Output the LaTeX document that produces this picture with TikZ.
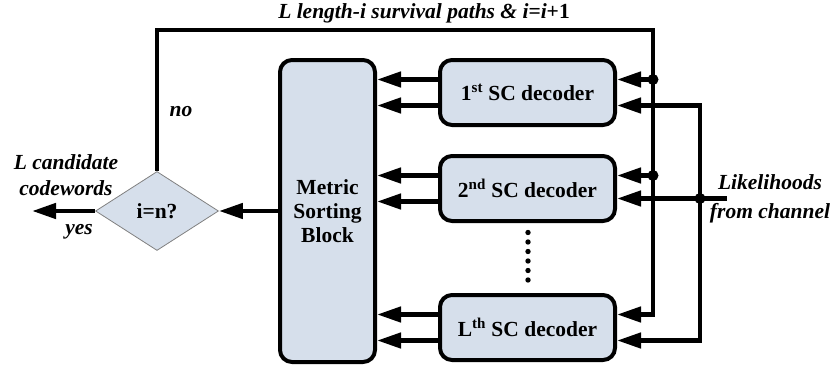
\documentclass[tikz,border=0pt]{standalone}
\usepackage{fontspec}
\setmainfont{Liberation Serif}
\usepackage{tikz}
\usetikzlibrary{arrows.meta,shapes.geometric}
\definecolor{blockblue}{RGB}{214,223,235}

\begin{document}
\begin{tikzpicture}[x=10bp,y=-10bp,
    font=\fontsize{21.5bp}{24bp}\selectfont\bfseries,
    block/.style={draw=black,line width=4bp,fill=blockblue,rounded corners=12bp,inner sep=0pt},
    decider/.style={diamond,draw=gray,line width=0.8bp,fill=blockblue,aspect=1.56,
        minimum width=123bp,minimum height=79bp,inner sep=0pt},
    wire/.style={line width=4.5bp},
    flow/.style={line width=4.5bp,-{Triangle[length=24bp,width=15bp]}},
    junction/.style={circle,fill=black,inner sep=0pt,minimum size=11bp},
    lbl/.style={font=\fontsize{21.5bp}{26bp}\selectfont\bfseries\itshape,align=center}]

    \useasboundingbox (0,0) rectangle (83.6,37.1);

    % blocks
    \node[block,minimum width=95bp,minimum height=302bp,align=center] (sort) at (32.75,21.1) {Metric\\Sorting\\Block};
    \node[block,minimum width=175bp,minimum height=65bp] (dec1) at (52.75,9.25) {1\textsuperscript{st} SC decoder};
    \node[block,minimum width=175bp,minimum height=65bp] (dec2) at (52.75,18.85) {2\textsuperscript{nd} SC decoder};
    \node[block,minimum width=175bp,minimum height=65bp] (dec3) at (52.75,32.75) {L\textsuperscript{th} SC decoder};
    \node[decider] (check) at (15.7,21.1) {i=n?};

    % points of the wiring
    \coordinate (out) at (3.2,21.1);
    \coordinate (loopR) at (65.3,3.0);
    \coordinate (bus) at (70.0,0);
    \coordinate (s1) at ([yshift=13bp]dec1.east);
    \coordinate (s2) at ([yshift=13bp]dec2.east);
    \coordinate (s3) at ([yshift=13bp]dec3.east);
    \coordinate (c1) at ([yshift=-13bp]dec1.east);
    \coordinate (c2) at ([yshift=-10bp]dec2.east);
    \coordinate (c3) at ([yshift=-13bp]dec3.east);
    \coordinate (chan) at ([xshift=110bp]c2);

    % decoders -> sorting block
    \foreach \d in {dec1,dec2,dec3}{
        \draw[flow] ([yshift=13bp]\d.west) -- ([yshift=13bp]\d.west -| sort.east);
        \draw[flow] ([yshift=-13bp]\d.west) -- ([yshift=-13bp]\d.west -| sort.east);
    }

    % survival paths loop
    \draw[flow] (check.north) |- (loopR) |- (s3);
    \draw[flow] (loopR |- s1) -- (s1);
    \draw[flow] (loopR |- s2) -- (s2);
    \node[junction] (j1) at (loopR |- s1) {};
    \node[junction] (j2) at (loopR |- s2) {};

    % likelihoods from channel
    \draw[flow] (chan) -- (c2);
    \draw[flow] (bus |- c2) |- (c1);
    \draw[flow] (bus |- c2) |- (c3);
    \node[junction] (j3) at (bus |- c2) {};

    % decision
    \draw[flow] (sort.west) -- (check.east);
    \draw[flow] (check.west) -- (out);

    % dots between decoders
    \foreach \k in {0,...,5}
        \fill (52.8,{23.25+\k*0.95}) circle (2.7bp);

    % labels
    \node[lbl] (title) at (42.4,1.3) {L length-i survival paths \& i{\upshape =}i{\upshape +1}};
    \node[lbl] (nolbl) at (18.1,11.2) {no};
    \node[lbl] (yeslbl) at (7.9,23.2) {yes};
    \node[lbl] (cand) at (6.6,17.5) {L candidate\\codewords};
    \node[lbl,font=\fontsize{21.5bp}{29bp}\selectfont\bfseries\itshape] (like) at (77.0,19.9) {Likelihoods\\from channel};

\end{tikzpicture}
\end{document}
